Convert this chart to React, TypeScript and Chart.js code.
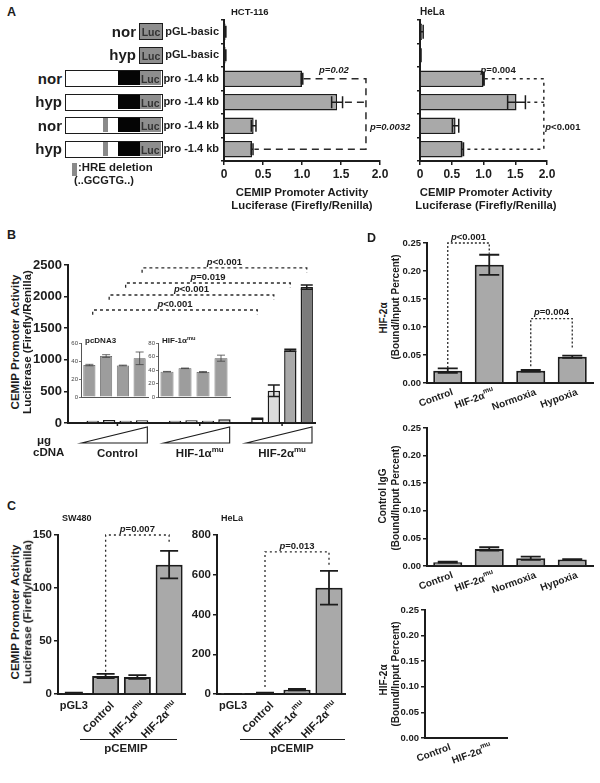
import React, { useEffect, useRef } from "react";
import { Chart, registerables } from "chart.js";

Chart.register(...registerables);

const FONT = '"Liberation Sans", Arial, Helvetica, sans-serif';
const INK = "#1c1c1c";
const BAR = "#a9a9a9";

/* ---------------- Panel A data ---------------- */
const A_ROW_LABELS = ["pGL-basic", "pGL-basic", "pro -1.4 kb", "pro -1.4 kb", "pro -1.4 kb", "pro -1.4 kb"];
const A_CONDITIONS = ["nor", "hyp", "nor", "hyp", "nor", "hyp"];
const A_CONSTRUCTS = ["basic", "basic", "promoter", "promoter", "deletion", "deletion"];
const A_HCT_VALUES = [0.02, 0.02, 1.0, 1.45, 0.38, 0.36];
const A_HCT_ERRORS = [0.004, 0.004, 0.01, 0.07, 0.03, 0.012];
const A_HELA_VALUES = [0.03, 0.012, 1.0, 1.52, 0.56, 0.67];
const A_HELA_ERRORS = [0.02, 0.004, 0.01, 0.14, 0.05, 0.015];
const A_X_MAX = 2.0;
const A_X_STEP = 0.5;
const A_HCT_P = ["p=0.02", "p=0.0032"];
const A_HELA_P = ["p=0.004", "p<0.001"];

/* ---------------- Panel B data ---------------- */
const B_GROUPS = ["Control", "HIF-1\u03b1^mu", "HIF-2\u03b1^mu"];
const B_DOSES = ["dose 1", "dose 2", "dose 3", "dose 4"];
const B_CONTROL = [35.5, 45.5, 35, 43];
const B_CONTROL_ERR = [0.8, 1.5, 0.4, 7];
const B_HIF1 = [37.5, 42.5, 37, 57.5];
const B_HIF1_ERR = [0.4, 0.4, 0.8, 4.5];
const B_HIF2 = [70, 510, 1150, 2150];
const B_HIF2_ERR = [4, 90, 15, 35];
const B_HIF2_FILLS = ["#ffffff", "#dcdcdc", "#a9a9a9", "#7b7b7b"];
const B_SMALL_FILL = "#cfcfcf";
const B_P = ["p<0.001", "p<0.001", "p=0.019", "p<0.001"];
const B_P_LEVEL = [1788, 2025, 2215, 2453];
const B_INSET_TITLES = ["pcDNA3", "HIF-1\u03b1^mu"];

/* ---------------- Panel C data ---------------- */
const C_LABELS = ["pGL3", "Control", "HIF-1\u03b1^mu", "HIF-2\u03b1^mu"];
const C_SW480 = [1, 17, 16, 122];
const C_SW480_ERR = [0.3, 2, 1.8, 13];
const C_HELA = [0.5, 5, 22, 535];
const C_HELA_ERR = [0.2, 1.5, 4, 85];
const C_P = ["p=0.007", "p=0.013"];

/* ---------------- Panel D data ---------------- */
const D_LABELS = ["Control", "HIF-2\u03b1^mu", "Normoxia", "Hypoxia"];
const D_HIF2A = [0.022, 0.211, 0.022, 0.047];
const D_HIF2A_ERR = [0.004, 0.018, 0.0015, 0.002];
const D_IGG = [0.007, 0.031, 0.014, 0.012];
const D_IGG_ERR = [0.001, 0.003, 0.003, 0.0006];
const D3_LABELS = ["Control", "HIF-2\u03b1^mu"];
const D3_HIF2A = [0.001, 0.001];
const D3_HIF2A_ERR = [0, 0];
const D_P = ["p<0.001", "p=0.004"];

/* ---------------- layout (page px) ---------------- */
const LAY: any = {
  aHct: { box: { l: 150, t: 10, r: 420, b: 185 }, plot: { l: 224, t: 20, r: 380, b: 161 } },
  aHela: { box: { l: 400, t: 10, r: 600, b: 185 }, plot: { l: 420, t: 20, r: 547, b: 161 } },
  bMain: { box: { l: 28, t: 250, r: 330, b: 472 }, plot: { l: 68, t: 265, r: 315, b: 423 } },
  bIn1: { box: { l: 70, t: 334, r: 152, b: 402 }, plot: { l: 81, t: 343, r: 148, b: 397 } },
  bIn2: { box: { l: 147, t: 334, r: 236, b: 402 }, plot: { l: 158, t: 343, r: 230, b: 397 } },
  cSw: { box: { l: 26, t: 518, r: 195, b: 740 }, plot: { l: 58, t: 535, r: 185, b: 694 } },
  cHela: { box: { l: 186, t: 518, r: 355, b: 740 }, plot: { l: 217, t: 535, r: 345, b: 694 } },
  d1: { box: { l: 398, t: 226, r: 600, b: 418 }, plot: { l: 427, t: 243, r: 593, b: 383 } },
  d2: { box: { l: 398, t: 418, r: 600, b: 602 }, plot: { l: 427, t: 428, r: 593, b: 566 } },
  d3: { box: { l: 396, t: 600, r: 520, b: 778 }, plot: { l: 425, t: 610, r: 507, b: 738 } },
};

/* ---------------- drawing helpers ---------------- */
function drawRich(ctx: any, text: string, x: number, y: number, align: string, size: number) {
  const parts = text.split("^");
  const main = parts[0];
  const sup = parts[1];
  const f1 = `bold ${size}px ${FONT}`;
  const f2 = `bold ${Math.round(size * 0.72)}px ${FONT}`;
  ctx.font = f1;
  const w1 = ctx.measureText(main).width;
  let w2 = 0;
  if (sup) {
    ctx.font = f2;
    w2 = ctx.measureText(sup).width;
  }
  const total = w1 + w2;
  const sx = align === "center" ? x - total / 2 : align === "right" ? x - total : x;
  ctx.textAlign = "left";
  ctx.font = f1;
  ctx.fillText(main, sx, y);
  if (sup) {
    ctx.font = f2;
    ctx.fillText(sup, sx + w1, y - size * 0.38);
  }
}

function drawP(ctx: any, label: string, x: number, y: number, size: number, italicAll: boolean) {
  const head = label.slice(0, 1);
  const rest = label.slice(1);
  const fi = `italic bold ${size}px ${FONT}`;
  const fr = `${italicAll ? "italic " : ""}bold ${size}px ${FONT}`;
  ctx.font = fi;
  const w1 = ctx.measureText(head).width;
  ctx.font = fr;
  const w2 = ctx.measureText(rest).width;
  const sx = x - (w1 + w2) / 2;
  ctx.textAlign = "left";
  ctx.font = fi;
  ctx.fillText(head, sx, y);
  ctx.font = fr;
  ctx.fillText(rest, sx + w1, y);
}

const errorBarsPlugin = {
  id: "errorBars",
  afterDatasetsDraw(chart: any, _a: any, opts: any) {
    if (!opts || !opts.errors) return;
    const ctx = chart.ctx;
    const horizontal = chart.options.indexAxis === "y";
    const vScale = horizontal ? chart.scales.x : chart.scales.y;
    const meta = chart.getDatasetMeta(0);
    const values = chart.data.datasets[0].data;
    const cap = opts.cap || 5;
    ctx.save();
    ctx.strokeStyle = opts.color || INK;
    ctx.lineWidth = opts.width || 1.5;
    meta.data.forEach((el: any, i: number) => {
      const v = values[i];
      const e = opts.errors[i];
      if (v == null || !e) return;
      const a = vScale.getPixelForValue(v - e);
      const b = vScale.getPixelForValue(v + e);
      ctx.beginPath();
      if (horizontal) {
        const y = el.y;
        ctx.moveTo(a, y); ctx.lineTo(b, y);
        ctx.moveTo(a, y - cap); ctx.lineTo(a, y + cap);
        ctx.moveTo(b, y - cap); ctx.lineTo(b, y + cap);
      } else {
        const x = el.x;
        ctx.moveTo(x, a); ctx.lineTo(x, b);
        ctx.moveTo(x - cap, a); ctx.lineTo(x + cap, a);
        ctx.moveTo(x - cap, b); ctx.lineTo(x + cap, b);
      }
      ctx.stroke();
    });
    ctx.restore();
  },
};

const bracketsPlugin = {
  id: "brackets",
  afterDraw(chart: any, _a: any, opts: any) {
    if (!opts || !opts.items) return;
    const ctx = chart.ctx;
    const xs = chart.scales.x;
    const ys = chart.scales.y;
    opts.items.forEach((it: any) => {
      ctx.save();
      ctx.strokeStyle = it.color || "#2a2a2a";
      ctx.lineWidth = it.width || 1.3;
      ctx.setLineDash(it.dash || [3, 3]);
      (it.paths || []).forEach((path: any) => {
        ctx.beginPath();
        path.forEach((pt: any, k: number) => {
          const px = xs.getPixelForValue(pt[0]);
          const py = ys.getPixelForValue(pt[1]);
          if (k) ctx.lineTo(px, py);
          else ctx.moveTo(px, py);
        });
        ctx.stroke();
      });
      ctx.setLineDash([]);
      if (it.label) {
        const px = xs.getPixelForValue(it.at[0]) + (it.dx || 0);
        const py = ys.getPixelForValue(it.at[1]) + (it.dy || 0);
        ctx.fillStyle = INK;
        ctx.textBaseline = it.baseline || "bottom";
        drawP(ctx, it.label, px, py, it.size || 9.5, !!it.italicAll);
      }
      ctx.restore();
    });
  },
};

const xLabelsPlugin = {
  id: "xLabels",
  afterDraw(chart: any, _a: any, opts: any) {
    if (!opts || !opts.labels) return;
    const ctx = chart.ctx;
    const xs = chart.scales.x;
    const bottom = chart.chartArea.bottom;
    opts.labels.forEach((lab: string, i: number) => {
      const x = xs.getPixelForValue(i);
      const rot = opts.rotations[i];
      ctx.save();
      ctx.fillStyle = INK;
      if (!rot) {
        ctx.textBaseline = "top";
        drawRich(ctx, lab, x, bottom + opts.flatDy, "center", opts.size);
      } else {
        ctx.textBaseline = "middle";
        ctx.translate(x + opts.dx, bottom + opts.dy);
        ctx.rotate((-rot * Math.PI) / 180);
        drawRich(ctx, lab, 0, 0, "right", opts.size);
      }
      ctx.restore();
    });
  },
};

const wedgesPlugin = {
  id: "wedges",
  afterDraw(chart: any, _a: any, opts: any) {
    if (!opts || !opts.groups) return;
    const ctx = chart.ctx;
    const xs = chart.scales.x;
    const bottom = chart.chartArea.bottom;
    const half = (xs.getPixelForValue(1) - xs.getPixelForValue(0)) / 2;
    ctx.save();
    ctx.strokeStyle = INK;
    ctx.fillStyle = INK;
    opts.groups.forEach((g: any) => {
      const l = xs.getPixelForValue(g.from) - half - 3;
      const r = xs.getPixelForValue(g.to) + half - 3;
      const mid = (xs.getPixelForValue(g.from) + xs.getPixelForValue(g.to)) / 2;
      ctx.lineWidth = 1.5;
      ctx.beginPath();
      ctx.moveTo(mid, bottom);
      ctx.lineTo(mid, bottom + 3);
      ctx.stroke();
      ctx.lineWidth = 1.1;
      ctx.beginPath();
      ctx.moveTo(l, bottom + 20);
      ctx.lineTo(r, bottom + 4);
      ctx.lineTo(r, bottom + 20);
      ctx.closePath();
      ctx.stroke();
      ctx.textBaseline = "middle";
      drawRich(ctx, g.name, mid, bottom + 31, "center", opts.size);
    });
    ctx.restore();
  },
};

/* ---------------- axis builders ---------------- */
function tickFont(size: number, weight = "bold") {
  return { family: FONT, size, weight };
}

function valueAxis(position: string, min: number, max: number, step: number, size: number, fmt: any, thin = false) {
  return {
    type: "linear",
    position,
    min,
    max,
    ticks: {
      stepSize: step,
      color: thin ? "#444" : INK,
      font: tickFont(size, thin ? "normal" : "bold"),
      padding: thin ? 1 : 2,
      callback: fmt,
    },
    grid: {
      display: true,
      drawOnChartArea: false,
      color: thin ? "#555" : INK,
      lineWidth: thin ? 0.8 : 1.5,
      tickLength: thin ? 2 : 4,
    },
    border: { display: true, color: thin ? "#555" : INK, width: thin ? 1 : 2 },
  };
}

function hiddenCategoryAxis(thin = false) {
  return {
    type: "category",
    position: "bottom",
    offset: true,
    ticks: { display: false },
    grid: { display: false },
    border: { display: true, color: thin ? "#555" : INK, width: thin ? 1 : 2 },
  };
}

const fmtInt = (v: any) => String(v);
const fmtA = (v: any) => (v === 0 ? "0" : Number(v).toFixed(1));
const fmtD = (v: any) => Number(v).toFixed(2);

/* ---------------- generic chart canvas ---------------- */
function ChartCanvas({ layout, build }: any) {
  const ref = useRef<HTMLCanvasElement | null>(null);
  const { box, plot } = layout;
  const w = box.r - box.l;
  const h = box.b - box.t;
  useEffect(() => {
    const cfg = build();
    const o = cfg.options;
    o.responsive = false;
    o.maintainAspectRatio = false;
    o.animation = false;
    o.events = [];
    o.layout = { padding: { top: plot.t - box.t, right: box.r - plot.r, left: 0, bottom: 0 } };
    o.plugins = Object.assign({ legend: { display: false }, tooltip: { enabled: false } }, o.plugins || {});
    Object.keys(o.scales).forEach((k) => {
      const s = o.scales[k];
      if (s.position === "left") s.afterFit = (sc: any) => { sc.width = plot.l - box.l; };
      if (s.position === "bottom") s.afterFit = (sc: any) => { sc.height = box.b - plot.b; };
    });
    const chart = new Chart(ref.current as HTMLCanvasElement, cfg);
    return () => chart.destroy();
  }, []);
  return (
    <canvas
      ref={ref}
      width={w}
      height={h}
      style={{ position: "absolute", left: box.l, top: box.t, width: w, height: h }}
    />
  );
}

/* ---------------- chart configs ---------------- */
function barSet(values: any, fill: any, extra: any = {}) {
  return Object.assign(
    { data: values, backgroundColor: fill, borderColor: INK, borderWidth: 1.5, categoryPercentage: 1, barPercentage: 0.7 },
    extra
  );
}

function panelAConfig(values: number[], errors: number[], showLabels: boolean, brackets: any[], cap: number) {
  return {
    type: "bar",
    data: { labels: A_ROW_LABELS, datasets: [barSet(values, BAR, { barPercentage: 0.7 })] },
    options: {
      indexAxis: "y",
      scales: {
        x: valueAxis("bottom", 0, A_X_MAX, A_X_STEP, 12, fmtA),
        y: {
          type: "category",
          position: "left",
          offset: true,
          ticks: {
            color: INK,
            font: tickFont(11),
            padding: 2,
            autoSkip: false,
            callback: (_v: any, i: number) => (showLabels ? A_ROW_LABELS[i] : ""),
          },
          grid: { display: true, drawOnChartArea: false, color: INK, lineWidth: 1.5, tickLength: 3 },
          border: { display: true, color: INK, width: 2 },
        },
      },
      plugins: {
        errorBars: { errors, cap, width: 1.5 },
        brackets: { items: brackets },
      },
    },
    plugins: [errorBarsPlugin, bracketsPlugin],
  };
}

function buildAHct() {
  const b = 1.82;
  return panelAConfig(A_HCT_VALUES, A_HCT_ERRORS, true, [
    {
      paths: [
        [[A_HCT_VALUES[2] + 0.02, 2], [b, 2], [b, 5], [A_HCT_VALUES[5] + 0.03, 5]],
        [[A_HCT_VALUES[3] + A_HCT_ERRORS[3] + 0.03, 3], [b, 3]],
      ],
      dash: [7, 5],
      width: 1.5,
      label: A_HCT_P[0],
      at: [1.41, 2],
      dy: -4,
      italicAll: true,
    },
    { label: A_HCT_P[1], at: [2.13, 4], dy: 2, baseline: "middle", italicAll: true },
  ], 6);
}

function buildAHela() {
  const b = 1.95;
  return panelAConfig(A_HELA_VALUES, A_HELA_ERRORS, false, [
    {
      paths: [
        [[A_HELA_VALUES[2] + 0.02, 2], [b, 2], [b, 5], [A_HELA_VALUES[5] + 0.03, 5]],
        [[A_HELA_VALUES[3] + A_HELA_ERRORS[3] + 0.03, 3], [b, 3]],
      ],
      dash: [3, 4],
      width: 1.5,
      label: A_HELA_P[0],
      at: [1.23, 2],
      dy: -4,
    },
    { label: A_HELA_P[1], at: [2.25, 4], dy: 2, baseline: "middle" },
  ], 7);
}

const B_SLOT_LABELS = [
  "",
  ...B_DOSES.map((d) => "Control " + d),
  "",
  ...B_DOSES.map((d) => "HIF-1 " + d),
  "",
  ...B_DOSES.map((d) => "HIF-2 " + d),
];
const B_SLOT_VALUES = [null, ...B_CONTROL, null, ...B_HIF1, null, ...B_HIF2];
const B_SLOT_ERRORS = [0, ...B_CONTROL.map(() => 0), 0, ...B_HIF1.map(() => 0), 0, ...B_HIF2_ERR];
const B_SLOT_FILLS = [
  B_SMALL_FILL,
  ...B_CONTROL.map(() => B_SMALL_FILL),
  B_SMALL_FILL,
  ...B_HIF1.map(() => B_SMALL_FILL),
  B_SMALL_FILL,
  ...B_HIF2_FILLS,
];

function buildBMain() {
  const first = [1, 6, 11];
  const items = B_P.map((p, k) => {
    const a = first[0] + k;
    const c = first[2] + k;
    const y = B_P_LEVEL[k];
    return {
      paths: [[[a, y - 75], [a, y], [c, y], [c, y - 75]]],
      dash: [3, 3],
      width: 1.3,
      label: p,
      at: [(a + c) / 2, y],
      dy: -1,
      size: 9.5,
    };
  });
  return {
    type: "bar",
    data: { labels: B_SLOT_LABELS, datasets: [barSet(B_SLOT_VALUES, B_SLOT_FILLS, { barPercentage: 0.75 })] },
    options: {
      scales: {
        x: hiddenCategoryAxis(),
        y: valueAxis("left", 0, 2500, 500, 13, fmtInt),
      },
      plugins: {
        errorBars: { errors: B_SLOT_ERRORS, cap: 6, width: 1.5 },
        brackets: { items },
        wedges: {
          size: 11.5,
          groups: B_GROUPS.map((name, g) => ({ name, from: first[g], to: first[g] + 3 })),
        },
      },
    },
    plugins: [errorBarsPlugin, bracketsPlugin, wedgesPlugin],
  };
}

function buildInset(values: number[], errors: number[], max: number) {
  return {
    type: "bar",
    data: {
      labels: B_DOSES,
      datasets: [barSet(values, "#9d9d9d", { borderColor: "#555", borderWidth: 0.8, barPercentage: 0.72 })],
    },
    options: {
      scales: {
        x: hiddenCategoryAxis(true),
        y: valueAxis("left", 0, max, 20, 6, fmtInt, true),
      },
      plugins: { errorBars: { errors, cap: 4, width: 0.8, color: "#444" } },
    },
    plugins: [errorBarsPlugin],
  };
}

function buildC(values: number[], errors: number[], max: number, step: number, p: string, level: number, leftFoot: number, rightFoot: number) {
  return {
    type: "bar",
    data: { labels: C_LABELS, datasets: [barSet(values, BAR, { borderWidth: 2, barPercentage: 0.85 })] },
    options: {
      scales: {
        x: hiddenCategoryAxis(),
        y: valueAxis("left", 0, max, step, 11.5, fmtInt),
      },
      plugins: {
        errorBars: { errors, cap: 9, width: 1.8 },
        brackets: {
          items: [
            {
              paths: [[[1, leftFoot], [1, level], [3, level], [3, rightFoot]]],
              dash: [2, 3],
              width: 1.3,
              label: p,
              at: [2, level],
              dy: -1,
              size: 9.5,
            },
          ],
        },
        xLabels: { labels: C_LABELS, rotations: [0, 45, 45, 45], size: 11, dx: 7, dy: 10, flatDy: 6 },
      },
    },
    plugins: [errorBarsPlugin, bracketsPlugin, xLabelsPlugin],
  };
}

function buildD(labels: string[], values: number[], errors: number[], brackets: any[]) {
  return {
    type: "bar",
    data: { labels, datasets: [barSet(values, BAR, { borderWidth: 2, barPercentage: 0.7 })] },
    options: {
      scales: {
        x: hiddenCategoryAxis(),
        y: valueAxis("left", 0, 0.25, 0.05, 9.5, fmtD),
      },
      plugins: {
        errorBars: { errors, cap: 10, width: 1.8 },
        brackets: { items: brackets },
        xLabels: { labels, rotations: labels.map(() => 20), size: 10, dx: 5, dy: 9, flatDy: 6 },
      },
    },
    plugins: [errorBarsPlugin, bracketsPlugin, xLabelsPlugin],
  };
}

function buildD1() {
  return buildD(D_LABELS, D_HIF2A, D_HIF2A_ERR, [
    {
      paths: [[[0, 0.027], [0, 0.25], [1, 0.25], [1, 0.231]]],
      dash: [2, 2],
      width: 1.3,
      label: D_P[0],
      at: [0.5, 0.25],
      dy: -1,
      size: 9.5,
    },
    {
      paths: [[[2, 0.03], [2, 0.115], [3, 0.115], [3, 0.061]]],
      dash: [2, 2],
      width: 1.3,
      label: D_P[1],
      at: [2.5, 0.115],
      dy: -1,
      size: 9.5,
    },
  ]);
}

/* ---------------- HTML text helpers ---------------- */
function Txt({ x, y, size, align = "left", children, style }: any) {
  const tx = align === "center" ? "translateX(-50%)" : align === "right" ? "translateX(-100%)" : "none";
  return (
    <div
      style={{
        position: "absolute",
        left: x,
        top: y,
        fontFamily: FONT,
        fontWeight: "bold",
        fontSize: size,
        lineHeight: 1,
        color: INK,
        whiteSpace: "nowrap",
        transform: tx,
        ...(style || {}),
      }}
    >
      {children}
    </div>
  );
}

function VTxt({ cx, cy, size, children }: any) {
  return (
    <div
      style={{
        position: "absolute",
        left: cx,
        top: cy,
        fontFamily: FONT,
        fontWeight: "bold",
        fontSize: size,
        lineHeight: 1,
        color: INK,
        whiteSpace: "nowrap",
        transform: "translate(-50%, -50%) rotate(-90deg)",
      }}
    >
      {children}
    </div>
  );
}

function Rich({ text }: any) {
  const parts = String(text).split("^");
  return (
    <span>
      {parts[0]}
      {parts[1] ? (
        <span style={{ fontSize: "0.72em", position: "relative", top: "-0.45em" }}>{parts[1]}</span>
      ) : null}
    </span>
  );
}

function HLine({ x1, x2, y }: any) {
  return <div style={{ position: "absolute", left: x1, top: y, width: x2 - x1, height: 0, borderTop: `1.5px solid ${INK}` }} />;
}

/* ---------------- construct diagrams (panel A, left) ---------------- */
function Constructs() {
  const plot = LAY.aHct.plot;
  const rowH = (plot.b - plot.t) / A_ROW_LABELS.length;
  const boxH = 17;
  return (
    <>
      {A_CONSTRUCTS.map((kind, i) => {
        const c = plot.t + rowH * (i + 0.5);
        const top = c - boxH / 2;
        const labelRight = kind === "basic" ? 136 : 62;
        const luc = (
          <span style={{ fontFamily: FONT, fontWeight: "bold", fontSize: 10.5, color: "#333" }}>Luc</span>
        );
        return (
          <React.Fragment key={i}>
            <div
              style={{
                position: "absolute",
                left: labelRight - 60,
                width: 60,
                top: c - 10,
                height: 20,
                lineHeight: "20px",
                textAlign: "right",
                fontFamily: FONT,
                fontWeight: "bold",
                fontSize: 15,
                color: INK,
              }}
            >
              {A_CONDITIONS[i]}
            </div>
            {kind === "basic" ? (
              <div
                style={{
                  position: "absolute",
                  left: 139,
                  top,
                  width: 24,
                  height: boxH,
                  boxSizing: "border-box",
                  border: `1.5px solid ${INK}`,
                  background: "#8e8e8e",
                  textAlign: "center",
                  lineHeight: `${boxH - 3}px`,
                }}
              >
                {luc}
              </div>
            ) : (
              <div
                style={{
                  position: "absolute",
                  left: 65,
                  top,
                  width: 98,
                  height: boxH,
                  boxSizing: "border-box",
                  border: `1.5px solid ${INK}`,
                  background: "#ffffff",
                }}
              >
                {kind === "deletion" ? (
                  <div style={{ position: "absolute", left: 36.5, top: 0, width: 5, height: boxH - 3, background: "#8a8a8a" }} />
                ) : null}
                <div style={{ position: "absolute", left: 51.5, top: 0, width: 22, height: boxH - 3, background: "#050505" }} />
                <div
                  style={{
                    position: "absolute",
                    left: 73.5,
                    top: 0,
                    width: 21.5,
                    height: boxH - 3,
                    background: "#8e8e8e",
                    textAlign: "center",
                    lineHeight: `${boxH - 3}px`,
                  }}
                >
                  {luc}
                </div>
              </div>
            )}
          </React.Fragment>
        );
      })}
      <div style={{ position: "absolute", left: 72, top: 163, width: 5, height: 13, background: "#8a8a8a" }} />
      <Txt x={78} y={162} size={11.4}>:HRE deletion</Txt>
      <Txt x={74} y={175} size={11}>(..GCGTG..)</Txt>
    </>
  );
}

/* ---------------- App ---------------- */
export default function App() {
  return (
    <div
      style={{
        position: "absolute",
        left: 0,
        top: 0,
        width: 600,
        height: 783,
        background: "#ffffff",
        overflow: "hidden",
      }}
    >
      {/* charts */}
      <ChartCanvas layout={LAY.aHct} build={buildAHct} />
      <ChartCanvas layout={LAY.aHela} build={buildAHela} />
      <ChartCanvas layout={LAY.bMain} build={buildBMain} />
      <ChartCanvas layout={LAY.bIn1} build={() => buildInset(B_CONTROL, B_CONTROL_ERR, 60)} />
      <ChartCanvas layout={LAY.bIn2} build={() => buildInset(B_HIF1, B_HIF1_ERR, 80)} />
      <ChartCanvas
        layout={LAY.cSw}
        build={() => buildC(C_SW480, C_SW480_ERR, 150, 50, C_P[0], 150, 21, 142)}
      />
      <ChartCanvas
        layout={LAY.cHela}
        build={() => buildC(C_HELA, C_HELA_ERR, 800, 200, C_P[1], 715, 35, 650)}
      />
      <ChartCanvas layout={LAY.d1} build={buildD1} />
      <ChartCanvas layout={LAY.d2} build={() => buildD(D_LABELS, D_IGG, D_IGG_ERR, [])} />
      <ChartCanvas layout={LAY.d3} build={() => buildD(D3_LABELS, D3_HIF2A, D3_HIF2A_ERR, [])} />

      {/* Panel A text */}
      <Txt x={7} y={6} size={12.5}>A</Txt>
      <Txt x={231} y={7} size={9.5}>HCT-116</Txt>
      <Txt x={420} y={7} size={10}>HeLa</Txt>
      <Constructs />
      <Txt x={302} y={187} size={11.3} align="center">CEMIP Promoter Activity</Txt>
      <Txt x={302} y={200} size={11.3} align="center">Luciferase (Firefly/Renilla)</Txt>
      <Txt x={486} y={187} size={11.3} align="center">CEMIP Promoter Activity</Txt>
      <Txt x={486} y={200} size={11.3} align="center">Luciferase (Firefly/Renilla)</Txt>

      {/* Panel B text */}
      <Txt x={7} y={229} size={12.5}>B</Txt>
      <VTxt cx={16} cy={342} size={11.5}>CEMIP Promoter Activity</VTxt>
      <VTxt cx={28} cy={342} size={11.5}>Luciferase (Firefly/Renilla)</VTxt>
      <Txt x={37} y={435} size={11.5}>{"\u03bcg"}</Txt>
      <Txt x={33} y={447} size={11.5}>cDNA</Txt>
      <Txt x={85} y={337} size={8}><Rich text={B_INSET_TITLES[0]} /></Txt>
      <Txt x={162} y={337} size={8}><Rich text={B_INSET_TITLES[1]} /></Txt>

      {/* Panel C text */}
      <Txt x={7} y={500} size={12.5}>C</Txt>
      <Txt x={62} y={514} size={9}>SW480</Txt>
      <Txt x={221} y={514} size={9}>HeLa</Txt>
      <VTxt cx={16} cy={612} size={11.5}>CEMIP Promoter Activity</VTxt>
      <VTxt cx={28} cy={612} size={11.5}>Luciferase (Firefly/Renilla)</VTxt>
      <HLine x1={80} x2={177} y={739} />
      <Txt x={126} y={743} size={11.5} align="center">pCEMIP</Txt>
      <HLine x1={240} x2={345} y={739} />
      <Txt x={292} y={743} size={11.5} align="center">pCEMIP</Txt>

      {/* Panel D text */}
      <Txt x={367} y={232} size={12.5}>D</Txt>
      <VTxt cx={384} cy={318} size={10}>{"HIF-2\u03b1"}</VTxt>
      <VTxt cx={396} cy={307} size={10}>(Bound/Input Percent)</VTxt>
      <VTxt cx={383} cy={496} size={10}>Control IgG</VTxt>
      <VTxt cx={396} cy={498} size={10}>(Bound/Input Percent)</VTxt>
      <VTxt cx={384} cy={680} size={10}>{"HIF-2\u03b1"}</VTxt>
      <VTxt cx={396} cy={674} size={10}>(Bound/Input Percent)</VTxt>
    </div>
  );
}
